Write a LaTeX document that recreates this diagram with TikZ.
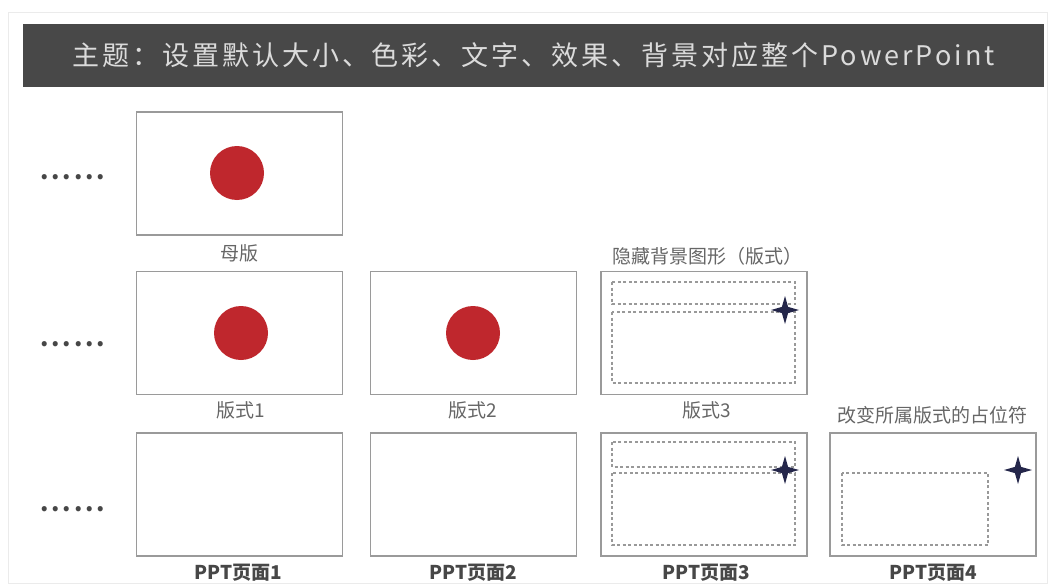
\documentclass[tikz,border=0pt]{standalone}
\usepackage{fontspec}
\setmainfont{Noto Sans CJK SC}
\newfontfamily\dotfont[LetterSpace=12]{Noto Sans CJK SC}
\newfontfamily\titlefont[LetterSpace=11]{Noto Sans CJK SC}
\usetikzlibrary{shapes.geometric}
\definecolor{barcol}{HTML}{484848}
\definecolor{suncol}{HTML}{BF272D}
\definecolor{starcol}{HTML}{24264A}
\definecolor{framecol}{HTML}{9A9A9A}
\begin{document}
\begin{tikzpicture}[
    x=1pt, y=-1pt,
    titlebar/.style={rectangle, fill=barcol, minimum width=1021pt, minimum height=63pt, inner sep=0pt, text=white!86!black, font=\fontsize{27}{30}\titlefont},
    slide/.style={rectangle, draw=framecol, line width=1.6pt, fill=white, minimum width=206pt, minimum height=123pt, inner sep=0pt},
    sun/.style={circle, fill=suncol, minimum size=54pt, inner sep=0pt},
    ph/.style={draw=gray!80, dash pattern=on 3pt off 2.5pt, line width=1.1pt},
    spark/.style={star, star points=4, star point ratio=3.2, fill=starcol, minimum size=28pt, inner sep=0pt},
    lbl/.style={font=\fontsize{19}{21}\selectfont, text=black!60},
    plbl/.style={font=\fontsize{19}{21}\selectfont\bfseries, text=black!72},
    dots/.style={font=\fontsize{24}{26}\dotfont\bfseries, text=black!72, inner sep=0pt}
]
  \useasboundingbox (0,0) rectangle (1050,586);
  \draw[black!8, line width=1pt] (8,13) rectangle (1047,583);
  % title
  \node[titlebar] (title) at (533.5,55.5) {主题：设置默认大小、色彩、文字、效果、背景对应整个PowerPoint};
  % slides
  \foreach \n/\x/\y in {m/239.5/173.5, l1/239.5/333, l2/473.5/333, l3/704/333,
                        p1/239.5/494.5, p2/473.5/494.5, p3/704/494.5, p4/933/494.5} {
    \node[slide] (\n) at (\x,\y) {};
  }
  \foreach \r/\y in {1/176, 2/343, 3/508} {
    \node[dots, anchor=base west] (d\r) at (40,\y+3) {......};
  }
  % red circles
  \node[sun] (c0) at (237,173) {};
  \node[sun] (c1) at (241,333) {};
  \node[sun] (c2) at (473,333) {};
  % placeholders
  \draw[ph] (612,282) rectangle (795,304);
  \draw[ph] (612,312) rectangle (795,383);
  \draw[ph] (612,442) rectangle (795,467);
  \draw[ph] (612,473) rectangle (795,545);
  \draw[ph] (842,473) rectangle (988,545);
  \node[spark] (s1) at (785,310) {};
  \node[spark] (s2) at (785,470) {};
  \node[spark] (s3) at (1018,470) {};
  % captions
  \node[lbl] (mlbl) at (239,253) {母版};
  \node[lbl] (hide) at (707,256) {隐藏背景图形（版式）};
  \node[lbl] (chg) at (932,415) {改变所属版式的占位符};
  \foreach \n/\x in {1/241, 2/473, 3/707} {
    \node[lbl] (llbl\n) at (\x,410) {版式\n};
  }
  \foreach \n/\x in {1/238, 2/473, 3/706, 4/933} {
    \node[plbl] (plbl\n) at (\x,573) {PPT页面\n};
  }
\end{tikzpicture}
\end{document}
